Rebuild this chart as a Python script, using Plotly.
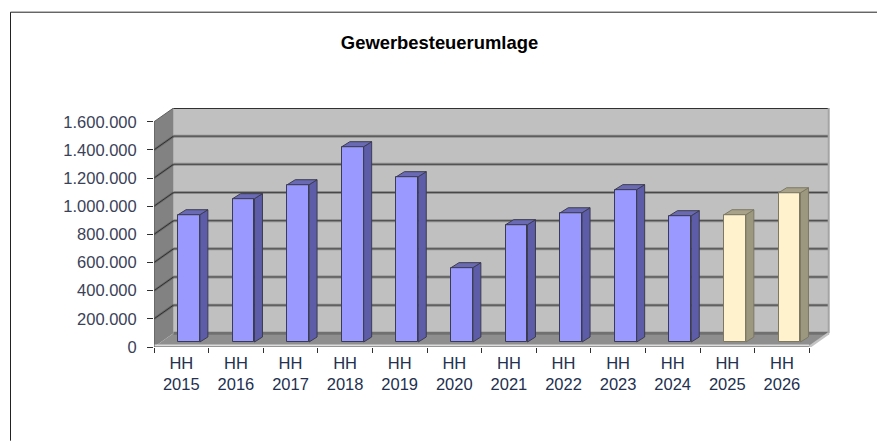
import plotly.graph_objects as go

years = ["2015","2016","2017","2018","2019","2020","2021","2022","2023","2024","2025","2026"]
values = [904000,1018000,1117000,1387000,1174000,528000,833000,918000,1082000,897000,904000,1060000]
y_ticks = [0,200000,400000,600000,800000,1000000,1200000,1400000,1600000]
y_labels = ["0","200.000","400.000","600.000","800.000","1.000.000","1.200.000","1.400.000","1.600.000"]
n_planned = 10  # first ten years are blue, the last two are cream

# pixel scale of the plot frame
L, R, T, B = 154, 830, 108.3, 347.3
CAT_PX = 54.6
VAL_PX = 140.8 / 1e6
DX, DY = 19.5 / CAT_PX, 13.7 / VAL_PX       # wall depth in data units
BAR_W = 0.4
BAR_SHIFT = 0.14
BAR_LIFT = 5 / VAL_PX
BAR_DX, BAR_DY = 8 / CAT_PX, 5 / VAL_PX     # bar depth
x_min, x_max = -0.5, -0.5 + (R - L) / CAT_PX
y_max = (B - T) / VAL_PX
n = len(years)
x_end = n - 0.5
top = y_ticks[-1]

WALL, SIDE, FLOOR = "#c0c0c0", "#828282", "#8e8e8e"
def poly(pts, fill, width=0, color=None, layer="below"):
    d = "M " + " L ".join(f"{a},{b}" for a, b in pts) + " Z"
    return dict(type="path", path=d, xref="x", yref="y", fillcolor=fill,
                line=dict(width=width, color=color or fill), layer=layer)
def seg(a, b, color, width, layer="below"):
    return dict(type="line", xref="x", yref="y", x0=a[0], y0=a[1], x1=b[0], y1=b[1],
                line=dict(color=color, width=width), layer=layer)

shapes = [
    poly([(x_min+DX,DY),(x_end+DX,DY),(x_end+DX,top+DY),(x_min+DX,top+DY)], WALL),
    poly([(x_min,0),(x_min+DX,DY),(x_min+DX,top+DY),(x_min,top)], SIDE),
    poly([(x_min,0),(x_end,0),(x_end+DX,DY),(x_min+DX,DY)], FLOOR),
]
for t in y_ticks[1:]:
    if t != top:
        shapes.append(seg((x_min+DX,t+DY),(x_end+DX,t+DY),"#8c8c8c",3))
        shapes.append(seg((x_min,t),(x_min+DX,t+DY),"#6a6a6a",2.5))
        shapes.append(seg((x_min+DX,t+DY),(x_end+DX,t+DY),"#484848",1))
        shapes.append(seg((x_min,t),(x_min+DX,t+DY),"#303030",1))
    else:
        shapes.append(seg((x_min,t),(x_min+DX,t+DY),"#606060",1))
shapes += [
    seg((x_min+DX,DY),(x_end+DX,DY),"#707070",3),
    seg((x_min+DX,top+DY),(x_end+DX,top+DY),"#000000",1.5),
    seg((x_end+DX,DY),(x_end+DX,top+DY),"#a4a4a4",2),
    seg((x_min,0),(x_end,0),"#dcdcdc",5),
    seg((x_min,0),(x_end,0),"#505050",1),
    seg((x_min,0),(x_min,top),"#505050",1),
    seg((x_end,0),(x_end+DX,DY),"#c4c4c4",2.5),
]
# page frame
shapes += [
    dict(type="line", xref="paper", yref="paper", x0=(10.5-L)/(R-L), x1=(877-L)/(R-L),
         y0=(B-12.5)/(B-T), y1=(B-12.5)/(B-T), line=dict(color="#222222", width=1)),
    dict(type="line", xref="paper", yref="paper", x0=(10.5-L)/(R-L), x1=(10.5-L)/(R-L),
         y0=(B-12.5)/(B-T), y1=(B-441)/(B-T), line=dict(color="#222222", width=1)),
]

centers = [i + BAR_SHIFT for i in range(n)]
front = ["#9999ff" if i < n_planned else "#fff2cc" for i in range(n)]
sidec = ["#5c5ca8" if i < n_planned else "#9c9880" for i in range(n)]
topc  = ["#6a6ab4" if i < n_planned else "#a8a28a" for i in range(n)]
edge  = ["#3c3c50" if i < n_planned else "#7c7864" for i in range(n)]

fig = go.Figure()
fig.add_trace(go.Bar(x=centers, y=values, base=[BAR_LIFT]*n, width=BAR_W,
                     marker=dict(color=front, line=dict(color=edge, width=1)),
                     showlegend=False, hoverinfo="skip"))
for i in range(n):
    x0, x1 = centers[i]-BAR_W/2, centers[i]+BAR_W/2
    b, h = BAR_LIFT, BAR_LIFT + values[i]
    fig.add_trace(go.Scatter(x=[x1,x1+BAR_DX,x1+BAR_DX,x1,x1], y=[b,b+BAR_DY,h+BAR_DY,h,b],
        mode="lines", fill="toself", fillcolor=sidec[i], line=dict(color=edge[i], width=1),
        showlegend=False, hoverinfo="skip"))
    fig.add_trace(go.Scatter(x=[x0,x1,x1+BAR_DX,x0+BAR_DX,x0], y=[h,h,h+BAR_DY,h+BAR_DY,h],
        mode="lines", fill="toself", fillcolor=topc[i], line=dict(color=edge[i], width=1),
        showlegend=False, hoverinfo="skip"))

FONT = "Liberation Sans"
fig.update_layout(
    width=877, height=441, autosize=False, paper_bgcolor="white", plot_bgcolor="white",
    margin=dict(l=L, r=877-R, t=T, b=441-B, pad=0),
    title=dict(text="<b>Gewerbesteuerumlage</b>", x=439.5/877, xanchor="center",
               y=1-43/441, yanchor="middle", font=dict(family=FONT, size=18.4, color="#000000")),
    shapes=shapes, showlegend=False, bargap=0,
    xaxis=dict(range=[x_min, x_max], showgrid=False, zeroline=False, showline=False,
               tickmode="array", tickvals=list(range(n)),
               ticktext=[f"HH<br>{y}" for y in years], ticks="", ticklen=0, ticklabelstandoff=4,
               tickfont=dict(family=FONT, size=16.5, color="#23304f"),
               minor=dict(tickmode="array", tickvals=[i-0.5 for i in range(n+1)],
                          ticks="outside", ticklen=5, tickcolor="#303030", showgrid=False)),
    yaxis=dict(range=[0, y_max], showgrid=False, zeroline=False, showline=False,
               tickmode="array", tickvals=y_ticks, ticktext=y_labels, ticklabelstandoff=7,
               ticks="outside", ticklen=6, tickcolor="#303030",
               tickfont=dict(family=FONT, size=16.5, color="#3a4258")),
)
fig.write_html("out.html", config={"displayModeBar": False}, post_script="document.body.style.margin='0';")
